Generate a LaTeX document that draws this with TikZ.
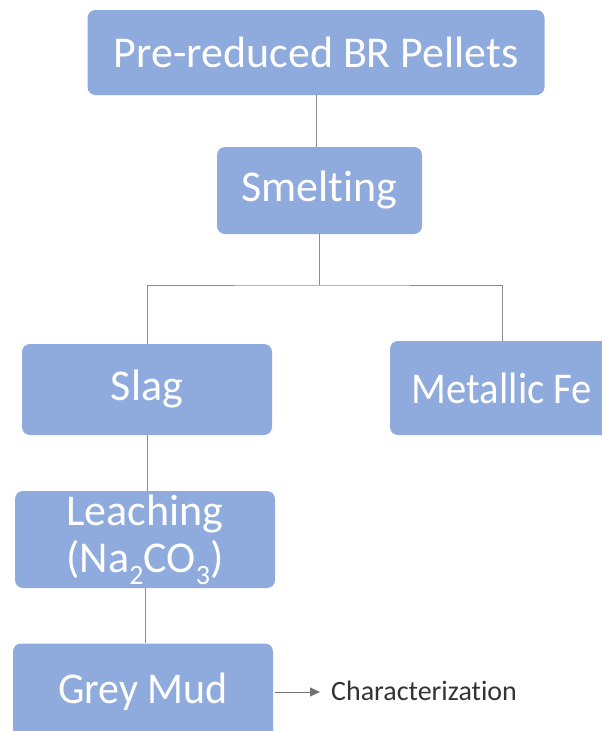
\documentclass[tikz,border=0pt]{standalone}
\usepackage{fontspec}
\setmainfont{Carlito}[Ligatures={NoCommon}]
\usetikzlibrary{arrows.meta}
\definecolor{boxblue}{HTML}{8FAADC}
\definecolor{linegray}{HTML}{8C8C8C}
\definecolor{arrowgray}{HTML}{767171}
\definecolor{textdark}{HTML}{333333}
\tikzset{
  stepbox/.style={fill=boxblue, draw=none, rounded corners=8pt, inner sep=0pt,
    text=white, font=\fontsize{44}{47}\selectfont, align=center},
  link/.style={draw=linegray, line width=1pt},
  outarrow/.style={draw=arrowgray, line width=1pt, -{Triangle[length=10pt,width=9pt]}}
}
\newcommand{\subsc}[1]{{\fontsize{28}{28}\selectfont\raisebox{-12pt}{#1}}}
\begin{document}
\begin{tikzpicture}[x=1pt,y=-1pt]
\useasboundingbox (0,0) rectangle (602,731);
\clip (0,0) rectangle (602,731);
\node[stepbox, minimum width=457pt, minimum height=85pt] (top) at (316,52.5) {Pre-reduced BR Pellets};
\node[stepbox, minimum width=205pt, minimum height=87pt] (smelt) at (319.5,190.5) {Smelting};
\node[stepbox, minimum width=250pt, minimum height=91pt] (slag) at (147,389.5) {Slag};
\node[stepbox, minimum width=224pt, minimum height=94pt] (metal) at (502,388) {\scalebox{0.925}[1]{Metallic Fe}};
\node[stepbox, minimum width=260pt, minimum height=97pt] (leach) at (145,539.5) {Leaching\\(Na\subsc{2}CO\subsc{3})};
\node[stepbox, minimum width=260pt, minimum height=97pt] (grey) at (143,692) {\scalebox{0.955}[1]{Grey Mud}};
\node[anchor=west, inner sep=0pt, text=textdark, font=\fontsize{28}{30}\selectfont] (char) at (331,691) {Characterization};
\coordinate (j) at (319.5,285);
\draw[link] (top.south) -- (top.south |- smelt.north);
\draw[link] (smelt.south) -- (j);
\draw[link] (slag.north) |- (j) -| (metal.north);
\draw[link] (slag.south) -- (slag.south |- leach.north);
\draw[link] (leach.south) -- (leach.south |- grey.north);
\draw[outarrow, shorten <=2pt, shorten >=11pt] (grey.east) -- (grey.east -| char.west);
\end{tikzpicture}
\end{document}
